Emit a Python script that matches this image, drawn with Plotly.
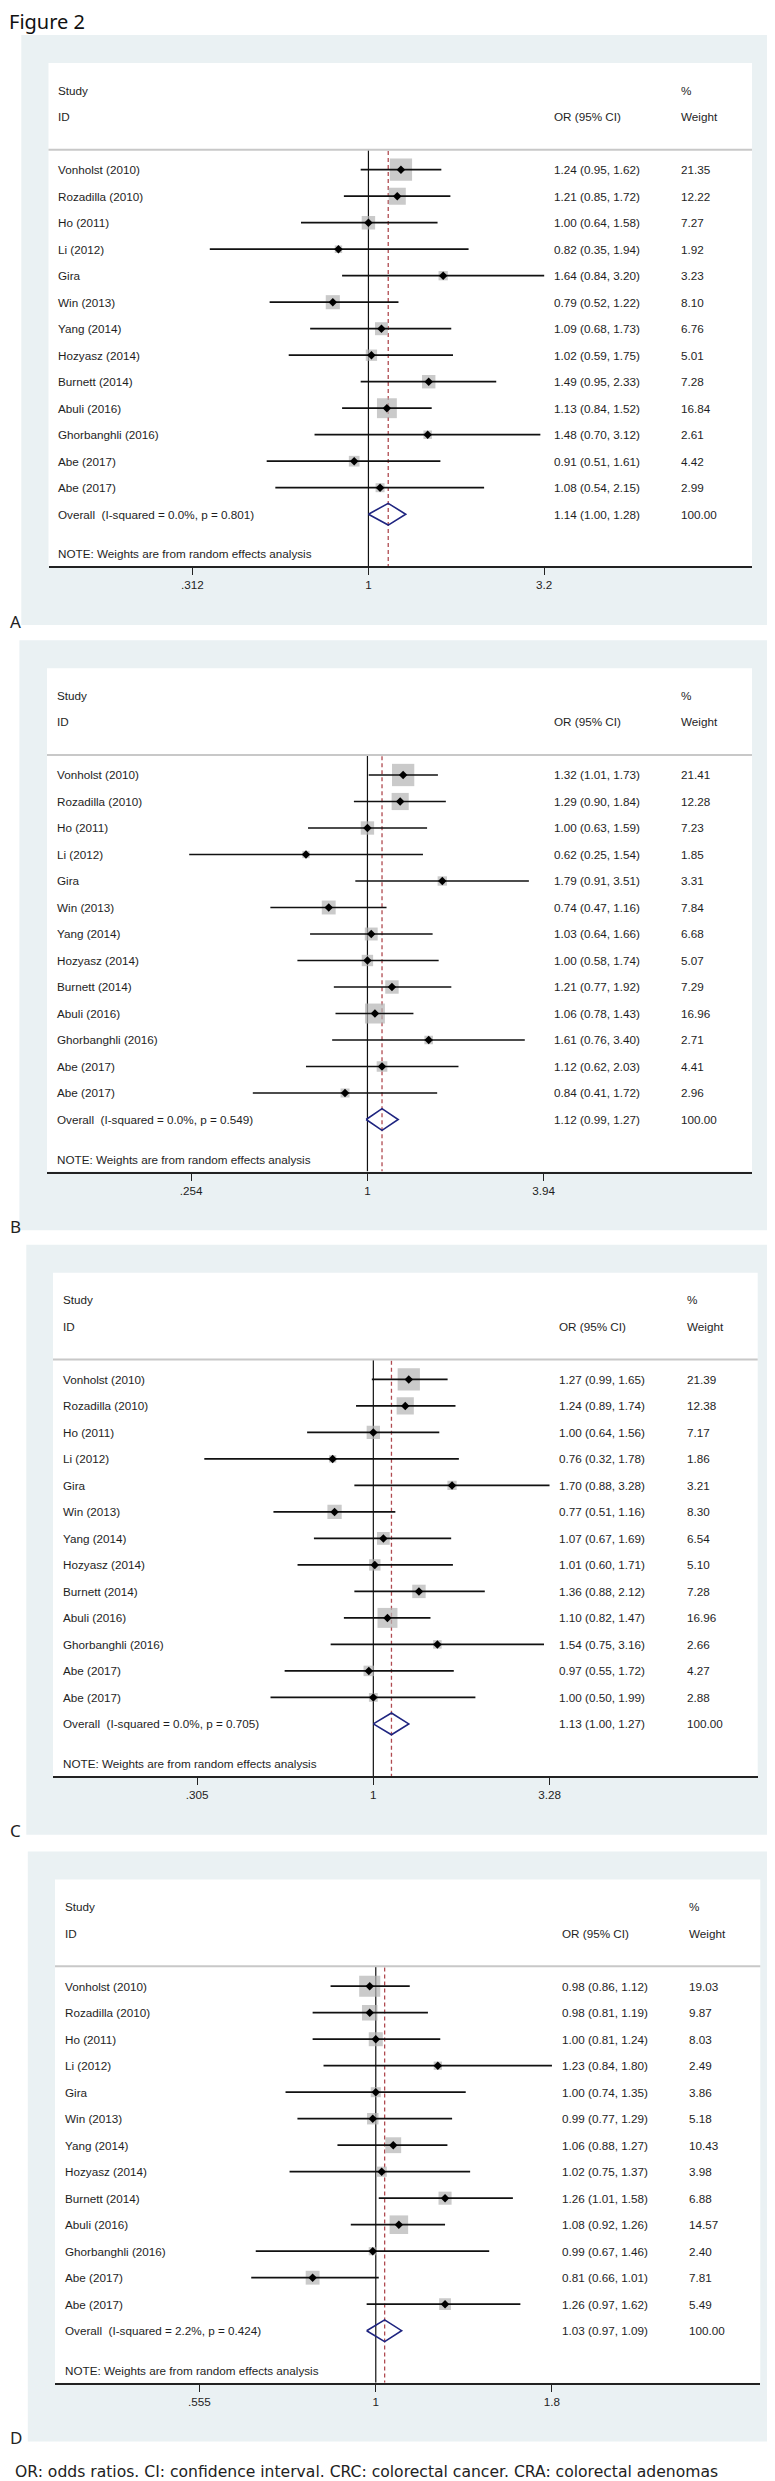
import math
import plotly.graph_objects as go

# ---------------- data ----------------
studies = ["Vonholst (2010)", "Rozadilla (2010)", "Ho (2011)", "Li (2012)", "Gira",
           "Win (2013)", "Yang (2014)", "Hozyasz (2014)", "Burnett (2014)",
           "Abuli (2016)", "Ghorbanghli (2016)", "Abe (2017)", "Abe (2017)"]

or_a = [1.24, 1.21, 1.00, 0.82, 1.64, 0.79, 1.09, 1.02, 1.49, 1.13, 1.48, 0.91, 1.08]
lo_a = [0.95, 0.85, 0.64, 0.35, 0.84, 0.52, 0.68, 0.59, 0.95, 0.84, 0.70, 0.51, 0.54]
hi_a = [1.62, 1.72, 1.58, 1.94, 3.20, 1.22, 1.73, 1.75, 2.33, 1.52, 3.12, 1.61, 2.15]
wt_a = [21.35, 12.22, 7.27, 1.92, 3.23, 8.10, 6.76, 5.01, 7.28, 16.84, 2.61, 4.42, 2.99]
overall_a = [1.14, 1.00, 1.28]
het_a = ["0.0%", "0.801"]
ticks_a = [0.312, 1, 3.2]
ticktext_a = [".312", "1", "3.2"]

or_b = [1.32, 1.29, 1.00, 0.62, 1.79, 0.74, 1.03, 1.00, 1.21, 1.06, 1.61, 1.12, 0.84]
lo_b = [1.01, 0.90, 0.63, 0.25, 0.91, 0.47, 0.64, 0.58, 0.77, 0.78, 0.76, 0.62, 0.41]
hi_b = [1.73, 1.84, 1.59, 1.54, 3.51, 1.16, 1.66, 1.74, 1.92, 1.43, 3.40, 2.03, 1.72]
wt_b = [21.41, 12.28, 7.23, 1.85, 3.31, 7.84, 6.68, 5.07, 7.29, 16.96, 2.71, 4.41, 2.96]
overall_b = [1.12, 0.99, 1.27]
het_b = ["0.0%", "0.549"]
ticks_b = [0.254, 1, 3.94]
ticktext_b = [".254", "1", "3.94"]

or_c = [1.27, 1.24, 1.00, 0.76, 1.70, 0.77, 1.07, 1.01, 1.36, 1.10, 1.54, 0.97, 1.00]
lo_c = [0.99, 0.89, 0.64, 0.32, 0.88, 0.51, 0.67, 0.60, 0.88, 0.82, 0.75, 0.55, 0.50]
hi_c = [1.65, 1.74, 1.56, 1.78, 3.28, 1.16, 1.69, 1.71, 2.12, 1.47, 3.16, 1.72, 1.99]
wt_c = [21.39, 12.38, 7.17, 1.86, 3.21, 8.30, 6.54, 5.10, 7.28, 16.96, 2.66, 4.27, 2.88]
overall_c = [1.13, 1.00, 1.27]
het_c = ["0.0%", "0.705"]
ticks_c = [0.305, 1, 3.28]
ticktext_c = [".305", "1", "3.28"]

or_d = [0.98, 0.98, 1.00, 1.23, 1.00, 0.99, 1.06, 1.02, 1.26, 1.08, 0.99, 0.81, 1.26]
lo_d = [0.86, 0.81, 0.81, 0.84, 0.74, 0.77, 0.88, 0.75, 1.01, 0.92, 0.67, 0.66, 0.97]
hi_d = [1.12, 1.19, 1.24, 1.80, 1.35, 1.29, 1.27, 1.37, 1.58, 1.26, 1.46, 1.01, 1.62]
wt_d = [19.03, 9.87, 8.03, 2.49, 3.86, 5.18, 10.43, 3.98, 6.88, 14.57, 2.40, 7.81, 5.49]
overall_d = [1.03, 0.97, 1.09]
het_d = ["2.2%", "0.424"]
ticks_d = [0.555, 1, 1.8]
ticktext_d = [".555", "1", "1.8"]

overall_weight = 100.00
panel_letters = ["A", "B", "C", "D"]
figure_title = "Figure 2"
caption = "OR: odds ratios. CI: confidence interval. CRC: colorectal cancer. CRA: colorectal adenomas"
note_text = "NOTE: Weights are from random effects analysis"

# ---------------- layout / style ----------------
FW, FH = 775, 2481
ROW0, PITCH = 134.7, 26.5          # px offsets inside a panel
WHITE_TOP, AXIS_Y, BG_BOTTOM, LETTER_Y = 28.0, 531.3, 590.0, 586.0
BG_COL = "#eaf1f3"
TXT_COL = "#1e1e1e"
FONT = "Liberation Sans, Arial, sans-serif"
FS = 11.7
BOX_COL = "#b4b4b4"
DIAM_COL = "#1f2580"
REF_COL = "#b04a50"

panel_geom = [
    dict(T=27.0, bg=(13.3, 765.0), wb=(40.5, 744.0)),
    dict(T=632.3, bg=(11.4, 764.7), wb=(39.0, 744.0)),
    dict(T=1236.7, bg=(18.3, 770.7), wb=(45.0, 749.7)),
    dict(T=1843.5, bg=(19.8, 772.7), wb=(47.0, 752.3)),
]
panel_data = [
    (or_a, lo_a, hi_a, wt_a, overall_a, het_a, ticks_a, ticktext_a),
    (or_b, lo_b, hi_b, wt_b, overall_b, het_b, ticks_b, ticktext_b),
    (or_c, lo_c, hi_c, wt_c, overall_c, het_c, ticks_c, ticktext_c),
    (or_d, lo_d, hi_d, wt_d, overall_d, het_d, ticks_d, ticktext_d),
]

COL_STUDY, COL_OR, COL_WT = 0.0124, 0.7171, 0.8977   # fractions of the white box
TICK_LEFT_FRAC = 0.2046

fig = go.Figure()
shapes, annotations = [], []
yr_bottom = (AXIS_Y - ROW0) / PITCH
yr_top = (WHITE_TOP - ROW0) / PITCH
sep_row = (114.7 - ROW0) / PITCH
n = len(studies)
overall_row = n
note_row = (519.0 - ROW0) / PITCH

for i, (geom, data) in enumerate(zip(panel_geom, panel_data)):
    ors, los, his, wts, ov, het, tks, tkt = data
    sfx = "" if i == 0 else str(i + 1)
    xa, ya = "x" + sfx, "y" + sfx
    T = geom["T"]
    wb0, wb1 = geom["wb"]
    # log-axis range from tick values
    span = 2 * (math.log10(max(tks)) - math.log10(min(tks)))
    r0 = math.log10(min(tks)) - TICK_LEFT_FRAC * span
    r1 = r0 + span

    fig.layout["xaxis" + sfx] = dict(
        domain=[wb0 / FW, wb1 / FW], anchor=ya, type="log", range=[r0, r1],
        showgrid=False, zeroline=False, showline=True, linecolor="#222", linewidth=2,
        ticks="outside", ticklen=7, tickwidth=1.3, tickcolor="#222",
        tickvals=tks, ticktext=tkt, tickfont=dict(family=FONT, size=FS, color=TXT_COL),
        fixedrange=True)
    fig.layout["yaxis" + sfx] = dict(
        domain=[1 - (T + AXIS_Y) / FH, 1 - (T + WHITE_TOP) / FH], anchor=xa,
        range=[yr_bottom, yr_top], visible=False, fixedrange=True)

    # backgrounds
    shapes.append(dict(type="rect", xref="paper", yref="paper", layer="below",
                       x0=geom["bg"][0] / FW, x1=geom["bg"][1] / FW,
                       y0=1 - (T + BG_BOTTOM) / FH, y1=1 - T / FH,
                       fillcolor=BG_COL, line=dict(width=0)))
    shapes.append(dict(type="rect", xref="paper", yref="paper", layer="below",
                       x0=wb0 / FW, x1=wb1 / FW,
                       y0=1 - (T + AXIS_Y) / FH, y1=1 - (T + WHITE_TOP) / FH,
                       fillcolor="white", line=dict(width=0)))
    # header separator
    shapes.append(dict(type="line", xref=xa + " domain", yref=ya, x0=0, x1=1,
                       y0=sep_row, y1=sep_row, line=dict(color="#c8c8c8", width=2)))

    rows = list(range(n))
    # null line at OR = 1
    fig.add_trace(go.Scatter(x=[1, 1], y=[sep_row, yr_bottom], mode="lines",
                             line=dict(color="#111", width=1.2), xaxis=xa, yaxis=ya,
                             hoverinfo="skip", showlegend=False))
    # overall estimate line
    fig.add_trace(go.Scatter(x=[ov[0], ov[0]], y=[sep_row + 0.05, yr_bottom], mode="lines",
                             line=dict(color=REF_COL, width=1.3, dash="4px,3px"),
                             xaxis=xa, yaxis=ya, hoverinfo="skip", showlegend=False))
    # weight boxes
    fig.add_trace(go.Scatter(x=ors, y=rows, mode="markers",
                             marker=dict(symbol="square", color=BOX_COL,
                                         size=[4.6 * math.sqrt(w) + 1 for w in wts],
                                         line=dict(width=0)),
                             xaxis=xa, yaxis=ya, hoverinfo="skip", showlegend=False))
    # CI lines
    cx, cy = [], []
    for r, lo, hi in zip(rows, los, his):
        cx += [lo, hi, None]
        cy += [r, r, None]
    fig.add_trace(go.Scatter(x=cx, y=cy, mode="lines", line=dict(color="#111", width=1.7),
                             xaxis=xa, yaxis=ya, hoverinfo="skip", showlegend=False))
    # point estimates
    fig.add_trace(go.Scatter(x=ors, y=rows, mode="markers",
                             marker=dict(symbol="diamond", color="#000", size=6.5),
                             xaxis=xa, yaxis=ya, hoverinfo="skip", showlegend=False))
    # overall diamond
    h = 0.41
    fig.add_trace(go.Scatter(x=[ov[1], ov[0], ov[2], ov[0], ov[1]],
                             y=[overall_row, overall_row - h, overall_row, overall_row + h, overall_row],
                             mode="lines", line=dict(color=DIAM_COL, width=1.6),
                             xaxis=xa, yaxis=ya, hoverinfo="skip", showlegend=False))

    tf = dict(family=FONT, size=FS, color=TXT_COL)

    def add_text(xfrac, row, text):
        annotations.append(dict(xref=xa + " domain", yref=ya, x=xfrac, y=row, text=text,
                                showarrow=False, xanchor="left", yanchor="middle",
                                font=tf, borderpad=0))

    add_text(COL_STUDY, -3, "Study")
    add_text(COL_STUDY, -2, "ID")
    add_text(COL_OR, -2, "OR (95% CI)")
    add_text(COL_WT, -3, "%")
    add_text(COL_WT, -2, "Weight")
    for r, name, o, lo, hi, w in zip(rows, studies, ors, los, his, wts):
        add_text(COL_STUDY, r, name)
        add_text(COL_OR, r, f"{o:.2f} ({lo:.2f}, {hi:.2f})")
        add_text(COL_WT, r, f"{w:.2f}")
    add_text(COL_STUDY, overall_row,
             f"Overall\u00a0\u00a0(I-squared = {het[0]}, p = {het[1]})")
    add_text(COL_OR, overall_row, f"{ov[0]:.2f} ({ov[1]:.2f}, {ov[2]:.2f})")
    add_text(COL_WT, overall_row, f"{overall_weight:.2f}")
    add_text(COL_STUDY, note_row, note_text)

    # panel letter
    annotations.append(dict(xref="paper", yref="paper", x=0.5 / FW, y=1 - (T + LETTER_Y) / FH,
                            text=panel_letters[i], showarrow=False, xanchor="left",
                            yanchor="middle", borderpad=0,
                            font=dict(family="Noto Sans, sans-serif", size=17, color="#222")))

annotations.append(dict(xref="paper", yref="paper", x=0, y=1 - 14 / FH, text=figure_title,
                        showarrow=False, xanchor="left", yanchor="middle", borderpad=0,
                        font=dict(family="Noto Sans, sans-serif", size=20, color="#111")))
annotations.append(dict(xref="paper", yref="paper", x=6 / FW, y=1 - 2464 / FH, text=caption,
                        showarrow=False, xanchor="left", yanchor="middle", borderpad=0,
                        font=dict(family="DejaVu Sans, sans-serif", size=15.6, color="#222")))

fig.update_layout(width=FW, height=FH, margin=dict(l=0, r=0, t=0, b=0),
                  paper_bgcolor="white", plot_bgcolor="white",
                  shapes=shapes, annotations=annotations, showlegend=False)

fig.write_html("out.html")
